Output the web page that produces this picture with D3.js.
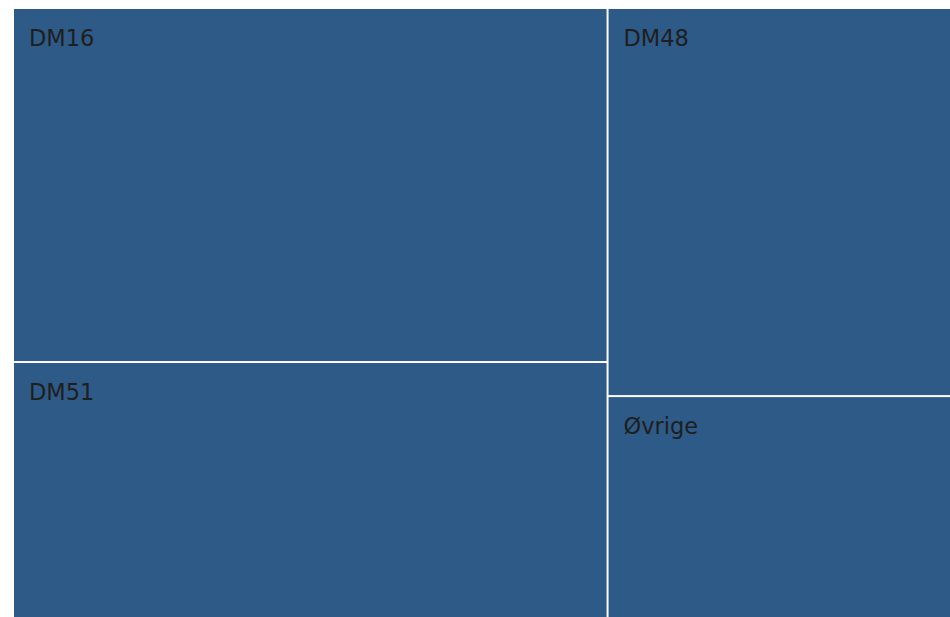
<!DOCTYPE html>
<html>
<head>
<meta charset="utf-8">
<script src="https://cdn.jsdelivr.net/npm/d3@7"></script>
<style>
  html, body { margin: 0; padding: 0; background: #fff; overflow: hidden; }
  svg { display: block; }
</style>
</head>
<body>
<svg id="chart" width="950" height="617"></svg>
<script>
// Data
const categories = ["DM16", "DM51", "DM48", "Øvrige"];
const values = [209300, 200400, 202000, 158700];

const svg = d3.select("#chart");
const fill = "#2e5a87";

const root = d3.hierarchy({
  name: "root",
  children: categories.map((c, i) => ({ name: c, value: values[i] }))
}).sum(d => d.value || 0);

d3.treemap()
  .tile(d3.treemapBinary)
  .size([1116, 691])
  .paddingInner(2)
  .round(false)(root);

const g = svg.append("g").attr("transform", "translate(14,9)");

const leaves = g.selectAll("g.cell")
  .data(root.leaves())
  .join("g")
  .attr("class", "cell");

leaves.append("rect")
  .attr("x", d => d.x0)
  .attr("y", d => d.y0)
  .attr("width", d => d.x1 - d.x0)
  .attr("height", d => d.y1 - d.y0)
  .attr("fill", fill);

leaves.append("text")
  .attr("x", d => d.x0 + 15)
  .attr("y", d => d.y0 + 37)
  .attr("font-family", "Verdana, 'DejaVu Sans', sans-serif")
  .attr("font-size", 22.5)
  .attr("fill", "#1e1e1e")
  .text(d => d.data.name);
</script>
</body>
</html>
